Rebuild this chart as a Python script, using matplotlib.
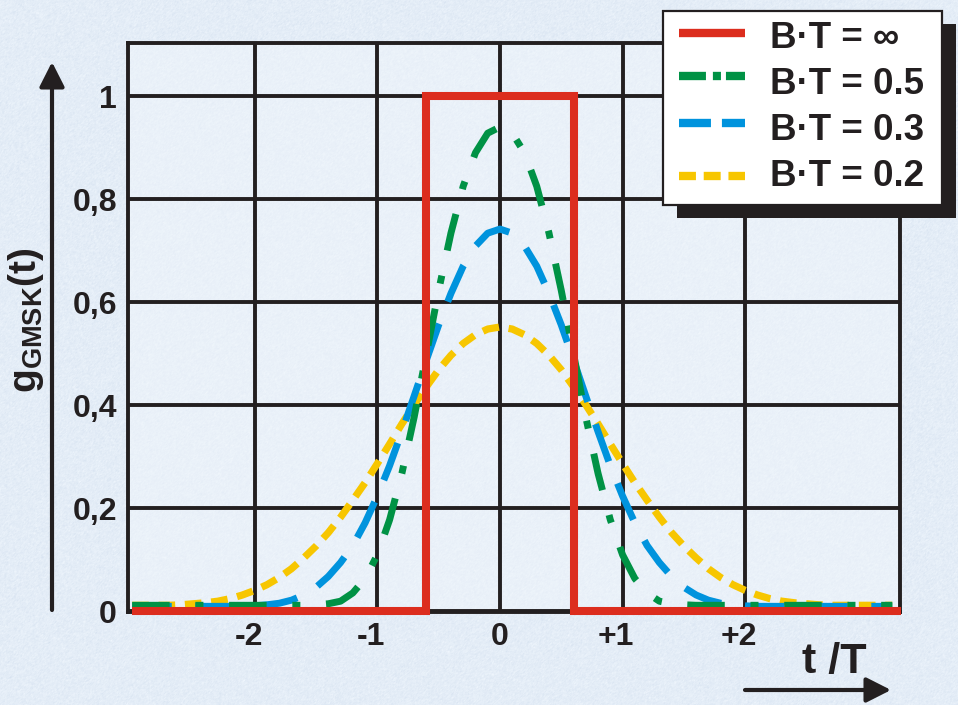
import numpy as np
import matplotlib
matplotlib.use("Agg")
import matplotlib.pyplot as plt
from matplotlib.lines import Line2D
from matplotlib.patches import Rectangle, FancyArrowPatch
from matplotlib.transforms import ScaledTranslation

FONT = ["Liberation Sans", "DejaVu Sans"]
plt.rcParams["font.family"] = FONT
plt.rcParams["font.weight"] = "bold"
plt.rcParams["lines.scale_dashes"] = False
plt.rcParams["mathtext.fontset"] = "custom"
plt.rcParams["mathtext.bf"] = "Liberation Sans:bold"
plt.rcParams["mathtext.rm"] = "Liberation Sans:bold"

# ---- data -------------------------------------------------------------
# time in symbol periods t/T
t = [-3.0, -2.9, -2.8, -2.7, -2.6, -2.5, -2.4, -2.3, -2.2, -2.1,
     -2.0, -1.9, -1.8, -1.7, -1.6, -1.5, -1.4, -1.3, -1.2, -1.1,
     -1.0, -0.9, -0.8, -0.7, -0.6, -0.5, -0.4, -0.3, -0.2, -0.1,
     0.0, 0.1, 0.2, 0.3, 0.4, 0.5, 0.6, 0.7, 0.8, 0.9,
     1.0, 1.1, 1.2, 1.3, 1.4, 1.5, 1.6, 1.7, 1.8, 1.9,
     2.0, 2.1, 2.2, 2.3, 2.4, 2.5, 2.6, 2.7, 2.8, 2.9,
     3.0, 3.1, 3.2]

# Gaussian-filtered frequency pulse, B*T = 0.5
g_bt05 = [0.012, 0.012, 0.012, 0.012, 0.012, 0.012, 0.012, 0.012, 0.012, 0.012,
          0.012, 0.012, 0.012, 0.012, 0.012, 0.013, 0.015, 0.020, 0.036, 0.064,
          0.110, 0.178, 0.268, 0.377, 0.500, 0.623, 0.734, 0.825, 0.890, 0.928,
          0.940, 0.928, 0.890, 0.825, 0.734, 0.623, 0.500, 0.377, 0.268, 0.178,
          0.110, 0.064, 0.036, 0.020, 0.015, 0.013, 0.012, 0.012, 0.012, 0.012,
          0.012, 0.012, 0.012, 0.012, 0.012, 0.012, 0.012, 0.012, 0.012, 0.012,
          0.012, 0.012, 0.012]

# B*T = 0.3
g_bt03 = [0.010, 0.010, 0.010, 0.010, 0.010, 0.010, 0.010, 0.010, 0.010, 0.010,
          0.011, 0.013, 0.016, 0.022, 0.032, 0.047, 0.068, 0.095, 0.128, 0.172,
          0.224, 0.283, 0.349, 0.418, 0.488, 0.556, 0.617, 0.670, 0.709, 0.734,
          0.742, 0.734, 0.709, 0.670, 0.617, 0.556, 0.488, 0.418, 0.349, 0.283,
          0.224, 0.172, 0.128, 0.095, 0.068, 0.047, 0.032, 0.022, 0.016, 0.013,
          0.011, 0.010, 0.010, 0.010, 0.010, 0.010, 0.010, 0.010, 0.010, 0.010,
          0.010, 0.010, 0.010]

# B*T = 0.2
g_bt02 = [0.012, 0.012, 0.012, 0.012, 0.013, 0.015, 0.017, 0.020, 0.025, 0.032,
          0.041, 0.052, 0.066, 0.083, 0.104, 0.127, 0.153, 0.183, 0.216, 0.250,
          0.287, 0.325, 0.364, 0.401, 0.436, 0.469, 0.497, 0.520, 0.537, 0.548,
          0.552, 0.548, 0.537, 0.520, 0.497, 0.469, 0.436, 0.401, 0.364, 0.325,
          0.287, 0.250, 0.216, 0.183, 0.153, 0.127, 0.104, 0.083, 0.066, 0.052,
          0.041, 0.032, 0.025, 0.020, 0.017, 0.015, 0.013, 0.012, 0.012, 0.012,
          0.012, 0.012, 0.012]

# unfiltered rectangular pulse (B*T = infinity)
rect_t = [-3.0, -0.6, -0.6, 0.6, 0.6, 3.27]
rect_g = [0.0, 0.0, 1.0, 1.0, 0.0, 0.0]

xticks = [-2, -1, 0, 1, 2]
xtick_labels = ["-2", "-1", "0", "+1", "+2"]
yticks = [0.0, 0.2, 0.4, 0.6, 0.8, 1.0]
ytick_labels = ["0", "0,2", "0,4", "0,6", "0,8", "1"]

legend_labels = ["B·T = ∞", "B·T = 0.5", "B·T = 0.3", "B·T = 0.2"]

# ---- style ------------------------------------------------------------
W_PX, H_PX = 958, 705
INK = "#231f20"
BG = "#e4edf7"
RED = "#dc2d1e"
GREEN = "#009245"
BLUE = "#0093dd"
YELLOW = "#f7c600"

DASH_GREEN = (0, (27.0, 18.5, 5.8, 18.5))
DASH_BLUE = (0, (28.5, 17.0))
DASH_YELLOW = (0, (12.0, 7.0))


def fx(px):
    return px / W_PX


def fy(py):
    # pixel row measured from the top edge -> figure fraction
    return 1.0 - py / H_PX


fig = plt.figure(figsize=(W_PX / 100, H_PX / 100), dpi=100)
fig.patch.set_facecolor(BG)

# faint paper grain behind everything
rng = np.random.default_rng(7)
grain = rng.normal(0.0, 1.0, (H_PX, W_PX))
grain = (grain + np.roll(grain, 1, 0) + np.roll(grain, 1, 1)) / 3.0
base = np.array([0xe4, 0xed, 0xf7]) / 255.0
paper = np.clip(base[None, None, :] + 0.018 * grain[:, :, None]
                * np.array([1.0, 0.8, 0.5])[None, None, :], 0, 1)
fig.figimage(paper, xo=0, yo=0, zorder=-10)

ax = fig.add_axes([fx(128), fy(612), fx(900) - fx(128), fy(43) - fy(612)])
ax.set_zorder(1)
ax.set_facecolor((0.95, 0.97, 0.99, 0.45))
ax.set_xlim(-3.034, 3.263)
ax.set_ylim(-0.001, 1.103)

ax.set_xticks(xticks, xtick_labels)
ax.set_yticks(yticks, ytick_labels)
ax.tick_params(axis="both", length=0, labelsize=23, colors=INK)
ax.tick_params(axis="x", pad=7)
ax.tick_params(axis="y", pad=8)
ax.grid(True, color=INK, lw=2.8)
ax.set_axisbelow(True)
for sp in ax.spines.values():
    sp.set_color(INK)
    sp.set_linewidth(2.8)

ax.plot(t, g_bt02, color=YELLOW, lw=5.2, ls=DASH_YELLOW, zorder=3)
ax.plot(t, g_bt03, color=BLUE, lw=5.0, ls=DASH_BLUE, zorder=3.1)
ax.plot(t, g_bt05, color=GREEN, lw=5.0, ls=DASH_GREEN, zorder=3.2)
ax.plot(rect_t, rect_g, color=RED, lw=5.8, zorder=4,
        solid_joinstyle="miter", solid_capstyle="butt", clip_on=False)

# signed tick labels sit slightly left of their grid line
shift = ScaledTranslation(-4.5 / 72, 0, fig.dpi_scale_trans)
for lab in ax.get_xticklabels():
    if lab.get_text() != "0":
        lab.set_transform(lab.get_transform() + shift)

# axis titles
fig.text(fx(26), fy(320), r"$\mathbf{g}_{\mathbf{GMSK}}\mathbf{(t)}$",
         rotation=90, ha="center", va="center", fontsize=28, color=INK)
fig.text(fx(834), fy(662), "t /T", ha="center", va="center",
         fontsize=31, color=INK)

# direction arrows
arrow_style = dict(arrowstyle="-|>,head_length=0.75,head_width=0.38",
                   mutation_scale=20, lw=3, color=INK, shrinkA=0, shrinkB=0)
fig.add_artist(FancyArrowPatch((fx(52), fy(610)), (fx(52), fy(62)),
                               transform=fig.transFigure, **arrow_style))
fig.add_artist(FancyArrowPatch((fx(745), fy(690)), (fx(891), fy(690)),
                               transform=fig.transFigure, **arrow_style))

# ---- legend box with solid drop shadow ---------------------------------
box_l, box_t, box_r, box_b = 663, 11, 942, 205
off = 14
fig.add_artist(Rectangle((fx(box_l + off), fy(box_b + off - 1)),
                         fx(box_r) - fx(box_l), fy(box_t) - fy(box_b),
                         transform=fig.transFigure, facecolor=INK,
                         edgecolor="none", zorder=10))
fig.add_artist(Rectangle((fx(box_l), fy(box_b)),
                         fx(box_r) - fx(box_l), fy(box_t) - fy(box_b),
                         transform=fig.transFigure, facecolor="white",
                         edgecolor=INK, lw=1.6, zorder=11))

handle_styles = [
    dict(color=RED, ls="-"),
    dict(color=GREEN, ls=(0, (19.4, 5.0, 5.8, 3.6))),
    dict(color=BLUE, ls=(0, (23.0, 7.9))),
    dict(color=YELLOW, ls=(0, (12.2, 5.6))),
]
line_rows = [33, 76, 123, 176]
text_rows = [39, 84, 131, 176]
for label, style, ly, ty in zip(legend_labels, handle_styles, line_rows, text_rows):
    fig.add_artist(Line2D([fx(679), fx(745)], [fy(ly), fy(ly)],
                          transform=fig.transFigure, lw=6.0,
                          solid_capstyle="butt", dash_capstyle="butt",
                          zorder=12, **style))
    fig.text(fx(770), fy(ty), label, ha="left", va="center",
             fontsize=26.5, color=INK, zorder=12)

fig.savefig("out.png", dpi=100, facecolor=fig.get_facecolor())
